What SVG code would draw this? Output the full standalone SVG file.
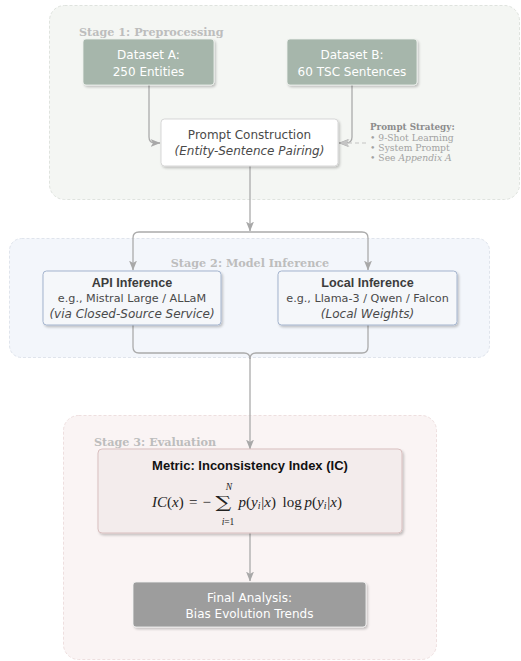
<svg xmlns="http://www.w3.org/2000/svg" width="521" height="661" viewBox="0 0 521 661">
  <defs>
    <filter id="shadow" x="-10%" y="-20%" width="125%" height="150%">
      <feDropShadow dx="1.5" dy="1.8" stdDeviation="1.3" flood-color="#000" flood-opacity="0.22"/>
    </filter>
    <marker id="arrow" viewBox="0 0 10 8" refX="9.5" refY="4" markerWidth="10" markerHeight="8" markerUnits="userSpaceOnUse" orient="auto">
      <path d="M0,0 L10,4 L0,8 L2.6,4 Z" fill="#a8a8a8"/>
    </marker>
    <marker id="arrowDash" viewBox="0 0 10 8" refX="9.5" refY="4" markerWidth="10" markerHeight="8" markerUnits="userSpaceOnUse" orient="auto">
      <path d="M0,0 L10,4 L0,8 L2.6,4 Z" fill="#c4c4c4"/>
    </marker>
    <style>
      .stage-label { font-family: "DejaVu Serif", serif; font-weight: bold; font-size: 11.2px; fill: #bdbdbd; }
      .sans { font-family: "DejaVu Sans", sans-serif; }
      .bold { font-family: "Liberation Sans", Arial, sans-serif; font-weight: bold; }
      .ds-text { font-size: 12px; fill: #ffffff; }
      .dark { fill: #4a4a4a; }
      .it { font-style: italic; }
      .note { font-family: "DejaVu Serif", serif; font-size: 9.2px; fill: #a2a2a2; }
      .note-title { font-family: "DejaVu Serif", serif; font-size: 8.8px; font-weight: bold; fill: #8c8c8c; }
      .math { font-family: "Liberation Serif", "Times New Roman", serif; fill: #222; }
      .conn { fill: none; stroke: #ababab; stroke-width: 1.3; }
      .dash { fill: none; stroke: #c4c4c4; stroke-width: 1.1; stroke-dasharray: 4 3; }
    </style>
  </defs>

  <!-- Stage backgrounds -->
  <g id="stage1">
    <rect x="49.5" y="5.5" width="470" height="194" rx="15" fill="#f4f6f3" stroke="#dfe3de" stroke-width="1" stroke-dasharray="3 2"/>
    <text class="stage-label" x="79" y="36">Stage 1: Preprocessing</text>
  </g>
  <g id="stage2">
    <rect x="9.5" y="238.5" width="480" height="119" rx="12" fill="#f3f6fb" stroke="#dfe4ec" stroke-width="1" stroke-dasharray="3 2"/>
    <text class="stage-label" x="250" y="267" text-anchor="middle">Stage 2: Model Inference</text>
  </g>
  <g id="stage3">
    <rect x="63.5" y="415.5" width="373" height="244" rx="15" fill="#faf4f4" stroke="#eedfdf" stroke-width="1" stroke-dasharray="3 2"/>
    <text class="stage-label" x="94" y="446">Stage 3: Evaluation</text>
  </g>

  <!-- Connectors -->
  <g id="connectors">
    <path class="conn" d="M149,85 V137 Q149,143 155,143 H160" marker-end="url(#arrow)"/>
    <path class="conn" d="M352,85 V137 Q352,143 346,143 H339" marker-end="url(#arrow)"/>
    <path class="dash" d="M366,143 H340" marker-end="url(#arrowDash)"/>
    <path class="conn" d="M250,166 V231" marker-end="url(#arrow)"/>
    <path class="conn" d="M250,232 H139 Q133,232 133,238 V270" marker-end="url(#arrow)"/>
    <path class="conn" d="M250,232 H362 Q368,232 368,238 V270" marker-end="url(#arrow)"/>
    <path class="conn" d="M133,325 V347 Q133,353 139,353 H244 Q250,353 250,359"/>
    <path class="conn" d="M368,325 V347 Q368,353 362,353 H256 Q250,353 250,359"/>
    <path class="conn" d="M250,358 V449" marker-end="url(#arrow)"/>
    <path class="conn" d="M250,533 V581" marker-end="url(#arrow)"/>
  </g>

  <!-- Nodes -->
  <g id="datasetA">
    <rect x="83" y="39" width="131" height="46" rx="3" fill="#a6b6ab" stroke="#eef1ee" stroke-width="0.8" filter="url(#shadow)"/>
    <text class="sans ds-text" x="148.5" y="58.5" text-anchor="middle">Dataset A:</text>
    <text class="sans ds-text" x="148.5" y="75.5" text-anchor="middle">250 Entities</text>
  </g>
  <g id="datasetB">
    <rect x="287" y="39" width="130" height="46" rx="3" fill="#a6b6ab" stroke="#eef1ee" stroke-width="0.8" filter="url(#shadow)"/>
    <text class="sans ds-text" x="352" y="58.5" text-anchor="middle">Dataset B:</text>
    <text class="sans ds-text" x="352" y="75.5" text-anchor="middle">60 TSC Sentences</text>
  </g>
  <g id="prompt">
    <rect x="161" y="119" width="177" height="47" rx="3.5" fill="#ffffff" stroke="#d2d2d2" stroke-width="0.9" filter="url(#shadow)"/>
    <text class="sans dark" x="249.5" y="138.5" font-size="12" text-anchor="middle">Prompt Construction</text>
    <text class="sans dark it" x="249.5" y="155" font-size="12" text-anchor="middle">(Entity-Sentence Pairing)</text>
  </g>
  <g id="strategy">
    <text class="note-title" x="370" y="130">Prompt Strategy:</text>
    <text class="note" x="370" y="140.5">• 9-Shot Learning</text>
    <text class="note" x="370" y="150.5">• System Prompt</text>
    <text class="note" x="370" y="160.5">• See <tspan font-style="italic">Appendix A</tspan></text>
  </g>
  <g id="api">
    <rect x="43" y="271" width="178" height="54" rx="3.5" fill="#f5f7fa" stroke="#a3b3cd" stroke-width="1" filter="url(#shadow)"/>
    <text class="bold" x="132" y="287" font-size="12.6" fill="#3c3c3c" text-anchor="middle">API Inference</text>
    <text class="sans dark" x="132" y="302" font-size="11.2" text-anchor="middle">e.g., Mistral Large / ALLaM</text>
    <text class="sans dark it" x="132" y="318" font-size="12" text-anchor="middle">(via Closed-Source Service)</text>
  </g>
  <g id="local">
    <rect x="278" y="271" width="179" height="54" rx="3.5" fill="#f5f7fa" stroke="#a3b3cd" stroke-width="1" filter="url(#shadow)"/>
    <text class="bold" x="367.5" y="287" font-size="12.6" fill="#3c3c3c" text-anchor="middle">Local Inference</text>
    <text class="sans dark" x="367.5" y="302" font-size="11.2" text-anchor="middle">e.g., Llama-3 / Qwen / Falcon</text>
    <text class="sans dark it" x="367.5" y="318" font-size="12" text-anchor="middle">(Local Weights)</text>
  </g>
  <g id="metric">
    <rect x="98" y="449" width="304" height="84" rx="4" fill="#f3ecec" stroke="#d9bfbf" stroke-width="1" filter="url(#shadow)"/>
    <text class="bold" x="250" y="469.5" font-size="13" fill="#111" text-anchor="middle">Metric: Inconsistency Index (IC)</text>
    <g class="math">
      <text x="152" y="506.5" font-size="15"><tspan class="it">IC</tspan>(<tspan class="it">x</tspan>)<tspan x="189">=</tspan><tspan x="202.5">−</tspan></text>
      <text x="0" y="0" font-size="17" text-anchor="middle" font-family="'DejaVu Serif', serif" transform="translate(223.5,508) scale(1.3,1)">∑</text>
      <text class="it" x="229" y="490" font-size="9.5" text-anchor="middle">N</text>
      <text x="228" y="524.5" font-size="9.5" text-anchor="middle"><tspan class="it">i</tspan>=1</text>
      <text x="238.5" y="506.5" font-size="15"><tspan class="it">p</tspan>(<tspan class="it">y</tspan><tspan class="it" font-size="10" dy="2.5">i</tspan><tspan dy="-2.5" dx="0.8">|</tspan><tspan class="it">x</tspan>)<tspan x="282.5">log</tspan><tspan class="it" x="304.5">p</tspan>(<tspan class="it">y</tspan><tspan class="it" font-size="10" dy="2.5">i</tspan><tspan dy="-2.5" dx="0.8">|</tspan><tspan class="it">x</tspan>)</text>
    </g>
  </g>
  <g id="final">
    <rect x="133" y="582" width="233" height="45" rx="3" fill="#9d9d9d" stroke="#f4f4f4" stroke-width="0.8" filter="url(#shadow)"/>
    <text class="sans ds-text" x="249.5" y="602" text-anchor="middle">Final Analysis:</text>
    <text class="sans ds-text" x="249.5" y="617.5" text-anchor="middle">Bias Evolution Trends</text>
  </g>
</svg>
